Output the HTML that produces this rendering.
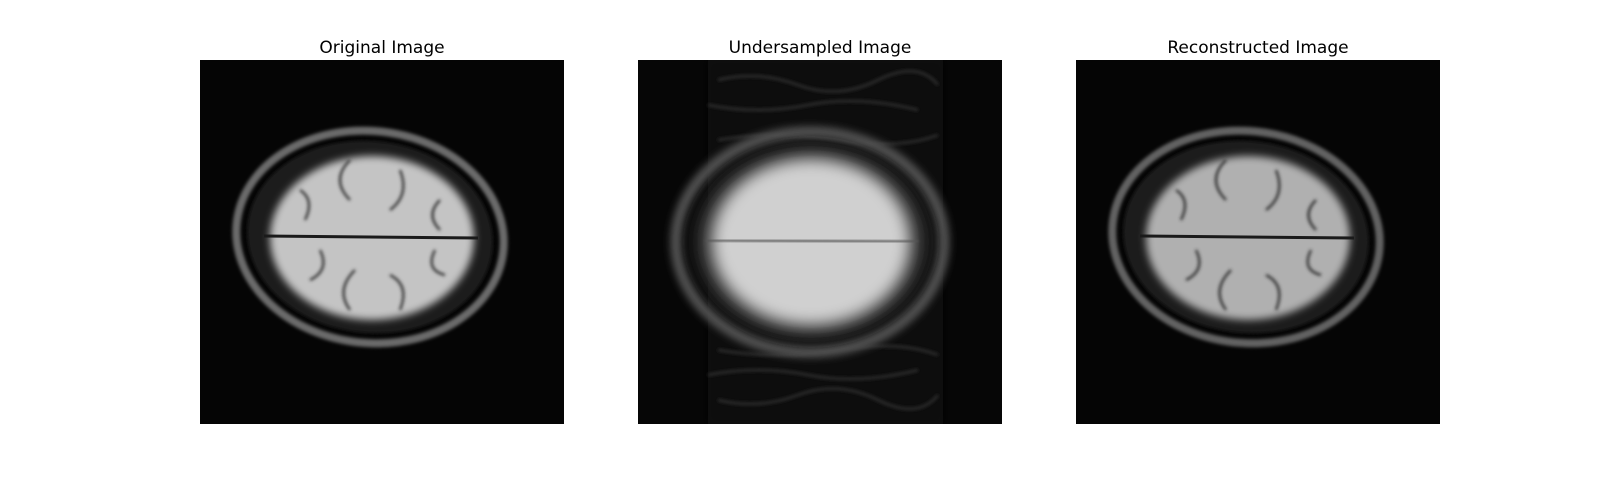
<!DOCTYPE html>
<html><head><meta charset="utf-8"><style>
body{margin:0;background:#fff;width:1600px;height:480px;overflow:hidden;font-family:"Liberation Sans","DejaVu Sans",sans-serif}
.t{position:absolute;font-size:17px;color:#000;text-align:center;width:364px;top:38px;font-family:"DejaVu Sans","Liberation Sans",sans-serif}
svg.p{position:absolute;top:60px;width:364px;height:364px}
</style></head><body>
<svg width="0" height="0" style="position:absolute"><defs>
<filter id="b1"><feGaussianBlur stdDeviation="1.5"/></filter>
<filter id="b2"><feGaussianBlur stdDeviation="4"/></filter>
<filter id="b3"><feGaussianBlur stdDeviation="8"/></filter>
</defs></svg>

<div class="t" style="left:200px">Original Image</div>
<svg class="p" style="left:200px" viewBox="0 0 364 364">
<rect width="364" height="364" fill="#050505"/>
<g transform="rotate(6 170 177)">
<ellipse cx="170" cy="177" rx="134" ry="106" fill="none" stroke="#6a6a6a" stroke-width="8" filter="url(#b1)"/>
<ellipse cx="170" cy="177" rx="123" ry="96" fill="#1a1a1a" filter="url(#b1)"/>
</g>
<ellipse cx="172" cy="178" rx="102" ry="82" fill="#c4c4c4" filter="url(#b2)"/>
<g stroke="#3a3a3a" stroke-width="2.5" fill="none" filter="url(#b1)">
<path d="M100 130 q15 10 5 30 M150 100 q-20 20 0 40 M200 110 q10 25 -10 40 M240 140 q-15 15 0 30 M110 220 q20-10 10-30 M150 250 q-15-20 5-40 M200 250 q10-25-10-35 M245 215 q-20-5-10-25"/>
</g>
<line x1="64" y1="176" x2="278" y2="178" stroke="#1a1a1a" stroke-width="3"/>
</svg>

<div class="t" style="left:638px">Undersampled Image</div>
<svg class="p" style="left:638px" viewBox="0 0 364 364">
<rect width="364" height="364" fill="#060606"/>
<rect x="70" y="0" width="235" height="364" fill="#111" filter="url(#b2)"/>
<g stroke="#2a2a2a" stroke-width="3" fill="none" filter="url(#b1)">
<path d="M80 20 q40-10 80 5 t80-5 t60 5"/><path d="M70 45 q50 10 100 0 t110 5"/><path d="M80 80 q60-10 120 0 t100-5"/>
<path d="M80 340 q40 10 80-5 t80 5 t60-5"/><path d="M70 315 q50-10 100 0 t110-5"/><path d="M80 290 q60 10 120 0 t100 5"/>
</g>
<ellipse cx="172" cy="182" rx="134" ry="110" fill="none" stroke="#555" stroke-width="11" filter="url(#b2)"/>
<ellipse cx="173" cy="182" rx="118" ry="96" fill="#262626" filter="url(#b3)"/>
<ellipse cx="173" cy="182" rx="100" ry="84" fill="#d0d0d0" filter="url(#b3)"/>
<line x1="68" y1="180" x2="280" y2="182" stroke="#555" stroke-width="3" filter="url(#b1)"/>
</svg>

<div class="t" style="left:1076px">Reconstructed Image</div>
<svg class="p" style="left:1076px" viewBox="0 0 364 364">
<rect width="364" height="364" fill="#050505"/>
<g transform="rotate(6 170 177)">
<ellipse cx="170" cy="177" rx="134" ry="106" fill="none" stroke="#626262" stroke-width="8" filter="url(#b1)"/>
<ellipse cx="170" cy="177" rx="123" ry="96" fill="#1a1a1a" filter="url(#b1)"/>
</g>
<ellipse cx="172" cy="178" rx="102" ry="82" fill="#b0b0b0" filter="url(#b2)"/>
<g stroke="#353535" stroke-width="2.5" fill="none" filter="url(#b1)">
<path d="M100 130 q15 10 5 30 M150 100 q-20 20 0 40 M200 110 q10 25 -10 40 M240 140 q-15 15 0 30 M110 220 q20-10 10-30 M150 250 q-15-20 5-40 M200 250 q10-25-10-35 M245 215 q-20-5-10-25"/>
</g>
<line x1="64" y1="176" x2="278" y2="178" stroke="#1a1a1a" stroke-width="3"/>
</svg>
</body></html>
